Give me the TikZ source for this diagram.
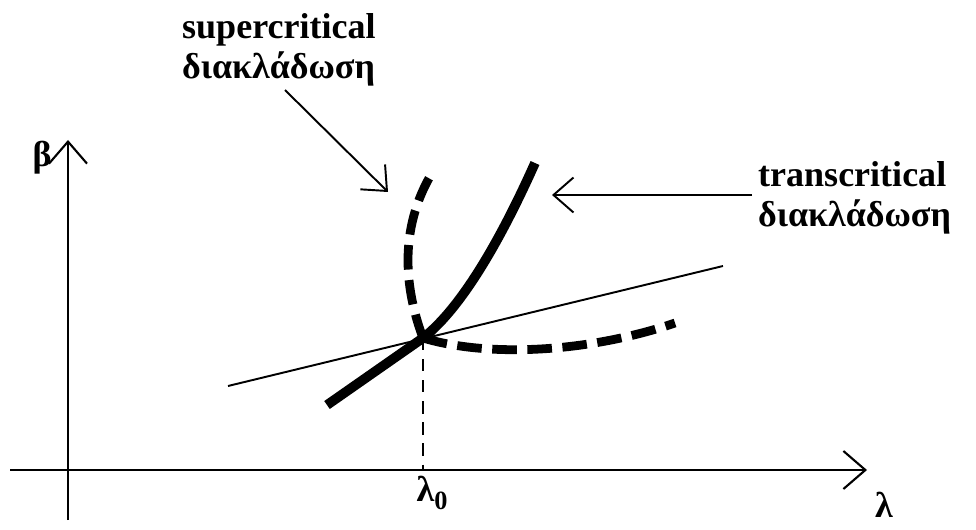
\documentclass[tikz,border=0pt]{standalone}
\usepackage{fontspec}
\setmainfont{Liberation Serif}
\usetikzlibrary{positioning,arrows.meta}

\begin{document}
\begin{tikzpicture}[x=0.02cm,y=-0.02cm,
  every node/.style={font=\fontsize{20.5}{22.5}\selectfont\bfseries},
  axisline/.style={line width=1.4pt,-{Straight Barb[length=4.4mm,width=7.6mm,line width=1.2pt]}},
  pointer/.style={line width=1.1pt,-{Straight Barb[length=4mm,width=7mm,line width=1.1pt]}},
  bigcurve/.style={line width=5.5pt},
  bigdash/.style={line width=5pt,dash pattern=on 14pt off 6pt}]
\useasboundingbox (0,0) rectangle (976,530);
% axes
\coordinate (xstart) at (10,470);
\coordinate (xend) at (867,470);
\coordinate (ystart) at (68,520);
\coordinate (yend) at (68,140);
\draw[axisline] (xstart) -- (xend);
\draw[axisline] (ystart) -- (yend);
\node (beta) at (42,158) {β};
\node (lambda) at (884,505) {λ};
\node (lzero) at (432,493) {λ\raisebox{-0.45ex}{\fontsize{15}{15}\selectfont 0}};
% crossing point and its projection
\coordinate (cross) at (423,338);
\coordinate (foot) at (423,470);
\draw[line width=1.1pt,dash pattern=on 7pt off 5pt] (cross) -- (foot);
% thin line
\coordinate (thinA) at (228,386);
\coordinate (thinB) at (723,266);
\draw[line width=1.1pt] (thinA) -- (thinB);
% transcritical branch
\coordinate (tlow) at (327,405);
\coordinate (ttop) at (535,163);
\draw[bigcurve] (tlow) -- (cross) .. controls (465,305) and (505,230) .. (ttop);
% supercritical branches
\coordinate (sup) at (432,173);
\coordinate (sright) at (675,323);
\draw[bigdash] (cross) .. controls (405,290) and (398,230) .. (sup);
\draw[bigdash] (cross) .. controls (490,358) and (590,352) .. (sright);
% labels with pointers
\node[anchor=west,align=left] (suplabel) at (176,50) {supercritical\\διακλάδωση};
\node[anchor=west,align=left] (translabel) at (752,198) {transcritical\\διακλάδωση};
\coordinate (suptip) at (388,192);
\coordinate (transtip) at (552,195);
\draw[pointer] (285,90) -- (suptip);
\draw[pointer] (translabel.west |- transtip) -- (transtip);
\end{tikzpicture}
\end{document}
